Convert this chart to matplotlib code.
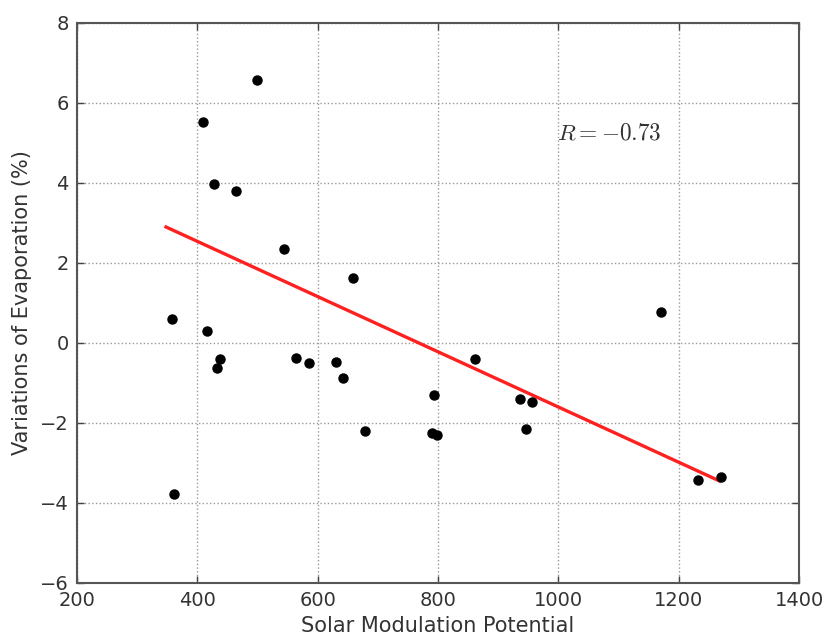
import matplotlib
matplotlib.use("Agg")
import matplotlib.pyplot as plt

# Data
solar_mod = [500, 409, 427, 465, 544, 659,
             358, 416, 438, 432, 564, 586, 630, 642, 678, 362,
             1171, 861, 794, 790, 798, 937, 957, 947, 1232, 1270]
evap_var = [6.57, 5.52, 3.97, 3.80, 2.35, 1.62,
            0.60, 0.29, -0.40, -0.62, -0.37, -0.51, -0.47, -0.88, -2.21, -3.77,
            0.78, -0.41, -1.29, -2.25, -2.29, -1.40, -1.48, -2.15, -3.43, -3.34]
fit_x = [348, 1268]
fit_y = [2.90, -3.45]
r_text = r"$R=-0.73$"
xticks = [200, 400, 600, 800, 1000, 1200, 1400]
yticks = [-6, -4, -2, 0, 2, 4, 6, 8]

plt.rcParams['mathtext.fontset'] = 'cm'
plt.rcParams['font.family'] = ['DejaVu Sans']

fig = plt.figure(figsize=(8.25, 6.37), dpi=100)
ax = fig.add_axes([0.0933, 0.0848, 0.8752, 0.8791])

ax.plot(solar_mod, evap_var, 'o', color='black', ms=6.5, mec='black', zorder=3)
ax.plot(fit_x, fit_y, '-', color='#ff2020', lw=2.4, zorder=2)
ax.text(998, 5.25, r_text, fontsize=16.8, color='#333333', va='center', ha='left')

ax.set_xlim(200, 1400)
ax.set_ylim(-6, 8)
ax.set_xticks(xticks)
ax.set_yticks(yticks)
ax.set_xticklabels([str(t) for t in xticks])
ax.set_yticklabels([("\u2212" + str(-t)) if t < 0 else str(t) for t in yticks])
ax.grid(True, linestyle=':', color='#999999', lw=1.0)
ax.tick_params(direction='in', top=True, right=True, length=5, width=1,
               labelsize=14, colors='#444444', labelcolor='#333333', pad=6)
for s in ax.spines.values():
    s.set_linewidth(1.5)
    s.set_color('#555555')

ax.set_xlabel("Solar Modulation Potential", fontsize=15, color='#333333', labelpad=4)
ax.set_ylabel("Variations of Evaporation (%)", fontsize=15, color='#333333', labelpad=6)

fig.savefig("out.png", dpi=100)
